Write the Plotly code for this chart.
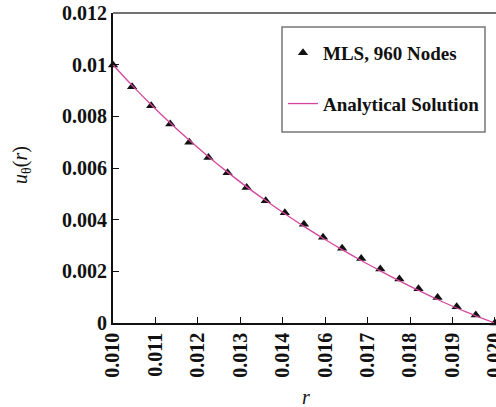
import plotly.graph_objects as go
import numpy as np

# Data
r_nodes = [0.0100, 0.0105, 0.0110, 0.0115, 0.0120, 0.0125, 0.0130, 0.0135, 0.0140, 0.0145,
           0.0150, 0.0155, 0.0160, 0.0165, 0.0170, 0.0175, 0.0180, 0.0185, 0.0190, 0.0195, 0.0200]
u_mls = [0.00999, 0.00915, 0.00841, 0.00770, 0.00700, 0.00641, 0.00582, 0.00525, 0.00473, 0.00427,
         0.00382, 0.00332, 0.00289, 0.00250, 0.00209, 0.00170, 0.00133, 0.00099, 0.00063, 0.00031, 0.00000]
u_exact = [0.01000, 0.00920, 0.00845, 0.00774, 0.00707, 0.00644, 0.00584, 0.00527, 0.00474, 0.00423,
           0.00374, 0.00328, 0.00284, 0.00242, 0.00202, 0.00163, 0.00126, 0.00091, 0.00058, 0.00028, 0.00000]

x_tick_labels = ["0.010", "0.011", "0.012", "0.013", "0.014", "0.016", "0.017", "0.018", "0.019", "0.020"]
y_tick_vals = [0, 0.002, 0.004, 0.006, 0.008, 0.010, 0.012]
y_tick_labels = ["0", "0.002", "0.004", "0.006", "0.008", "0.01", "0.012"]

x_tick_vals = list(np.linspace(0.010, 0.020, len(x_tick_labels)))

SERIF = "Liberation Serif"

fig = go.Figure()
fig.add_trace(go.Scatter(
    x=r_nodes, y=u_mls, mode="markers", name="MLS, 960 Nodes",
    marker=dict(symbol="triangle-up", size=9, color="#111111"),
    cliponaxis=False, legendgroup="a",
))
fig.add_trace(go.Scatter(
    x=r_nodes, y=u_exact, mode="lines", name="Analytical Solution",
    line=dict(color="#d4469c", width=1.3, shape="spline"),
    cliponaxis=False, legendgroup="b",
))

px = lambda v: (v - 113) / 383
py = lambda v: (323 - v) / 310

fig.update_layout(
    width=496, height=407,
    margin=dict(l=113, r=0, t=13, b=84, autoexpand=False),
    paper_bgcolor="white", plot_bgcolor="white",
    font=dict(family=SERIF, color="#111111"),
    showlegend=True,
    legend=dict(
        x=px(283), y=py(34), xanchor="left", yanchor="top",
        borderwidth=0, bgcolor="rgba(0,0,0,0)",
        font=dict(family=SERIF, size=19, color="#111111", weight="bold"),
        tracegroupgap=23, itemwidth=30,
    ),
    xaxis=dict(
        range=[0.010, 0.02003], automargin=False,
        tickmode="array", tickvals=x_tick_vals, ticktext=x_tick_labels,
        tickangle=-90, ticklabeloverflow="allow",
        tickfont=dict(family=SERIF, size=20, weight="bold", color="#111111"),
        ticks="inside", ticklen=6, tickwidth=1.3, tickcolor="#111111",
        showline=True, linecolor="#111111", linewidth=1.6,
        showgrid=False, zeroline=False,
    ),
    yaxis=dict(
        range=[0, 0.012], automargin=False,
        tickmode="array", tickvals=y_tick_vals, ticktext=y_tick_labels,
        tickfont=dict(family=SERIF, size=20, weight="bold", color="#111111"),
        ticks="inside", ticklen=6, tickwidth=1.3, tickcolor="#111111",
        showline=True, linecolor="#111111", linewidth=2.2,
        showgrid=False, zeroline=False,
    ),
    shapes=[
        dict(type="line", xref="paper", yref="paper", x0=0, x1=1, y0=1, y1=1,
             line=dict(color="#444444", width=1.3)),
        dict(type="rect", xref="paper", yref="paper", x0=px(282), x1=px(485), y0=py(132), y1=py(27),
             line=dict(color="#777777", width=1.5), fillcolor="white", layer="below"),
    ],
    annotations=[
        dict(text="<i>u</i><sub>θ</sub>(<i>r</i>)", xref="paper", yref="paper",
             x=px(21), y=py(165), xanchor="center", yanchor="middle",
             textangle=-90, showarrow=False, font=dict(family=SERIF, size=20, color="#111111")),
        dict(text="<i>r</i>", xref="paper", yref="paper",
             x=px(306), y=py(397), xanchor="center", yanchor="middle",
             showarrow=False, font=dict(family=SERIF, size=20, color="#111111")),
    ],
)

fig.write_html("out.html")
